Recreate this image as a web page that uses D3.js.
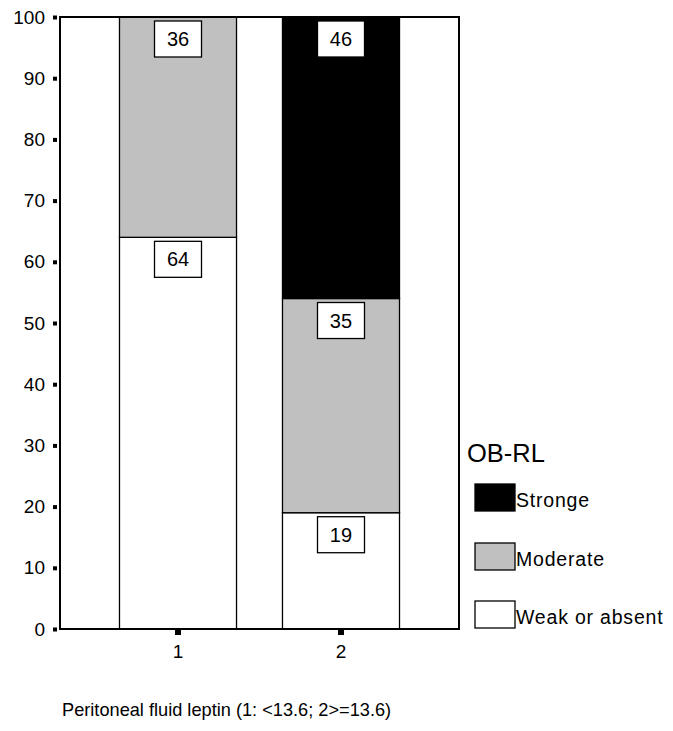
<!DOCTYPE html>
<html>
<head>
<meta charset="utf-8">
<script src="https://cdn.jsdelivr.net/npm/d3@7"></script>
<style>
  body { margin: 0; background: #fff; }
  svg { display: block; font-family: "Liberation Sans", Arial, sans-serif; }
</style>
</head>
<body>
<svg id="chart" width="673" height="731"></svg>
<script>
// Leptin groups on the x axis
const groups = ["1", "2"];
// OB-RL staining levels, bottom to top
const levels = ["Weak or absent", "Moderate", "Stronge"];
const levelColors = ["#ffffff", "#c0c0c0", "#000000"];
// Percentages per group, in the order of `levels`
const weakValues = [64, 19];
const moderateValues = [36, 35];
const strongValues = [0, 46];
const yTicks = [0, 10, 20, 30, 40, 50, 60, 70, 80, 90, 100];
const xTitle = "Peritoneal fluid leptin (1: <13.6; 2>=13.6)";
const legendTitle = "OB-RL";

const svg = d3.select("#chart");
const plot = { left: 60, right: 459, top: 17, bottom: 629 };
const font = "Liberation Sans, Arial, sans-serif";

const x = d3.scaleBand().domain(groups)
  .range([plot.left, plot.right])
  .paddingInner(0.282).paddingOuter(0.365);
const y = d3.scaleLinear().domain([0, 100]).range([plot.bottom, plot.top]);

const rows = groups.map((g, i) => ({
  group: g,
  values: [weakValues[i], moderateValues[i], strongValues[i]]
}));

// Stacked segments
const labels = [];
rows.forEach(row => {
  let base = 0;
  row.values.forEach((v, li) => {
    if (v > 0) {
      svg.append("rect")
        .attr("x", x(row.group))
        .attr("y", y(base + v))
        .attr("width", x.bandwidth())
        .attr("height", y(base) - y(base + v))
        .attr("fill", levelColors[li])
        .attr("stroke", "#000")
        .attr("stroke-width", 1.3);
      labels.push({ cx: x(row.group) + x.bandwidth() / 2, top: y(base + v) + 4, v });
    }
    base += v;
  });
});

// Frame around the plot area
svg.append("rect")
  .attr("x", plot.left).attr("y", plot.top)
  .attr("width", plot.right - plot.left).attr("height", plot.bottom - plot.top)
  .attr("fill", "none").attr("stroke", "#000").attr("stroke-width", 2);

// Value labels in white boxes near the top of each segment
labels.forEach(d => {
  const bw = 47, bh = 36;
  svg.append("rect")
    .attr("x", d.cx - bw / 2).attr("y", d.top)
    .attr("width", bw).attr("height", bh)
    .attr("fill", "#fff").attr("stroke", "#000").attr("stroke-width", 1.3);
  svg.append("text")
    .attr("x", d.cx).attr("y", d.top + bh / 2 + 7)
    .attr("text-anchor", "middle")
    .attr("font-size", 20)
    .text(d.v);
});

// Y axis
const yAxis = d3.axisLeft(y).tickValues(yTicks).tickSize(0).tickPadding(15);
const gy = svg.append("g").attr("transform", `translate(${plot.left},0)`).call(yAxis);
gy.select(".domain").remove();
gy.selectAll("text").attr("font-size", 19).attr("fill", "#000")
  .attr("font-family", font).attr("dy", "0.32em");
gy.selectAll(".tick").append("rect")
  .attr("x", -7).attr("y", -2).attr("width", 4).attr("height", 4).attr("fill", "#000");

// X axis
const xAxis = d3.axisBottom(x).tickSize(0).tickPadding(16);
const gx = svg.append("g").attr("transform", `translate(0,${plot.bottom})`).call(xAxis);
gx.select(".domain").remove();
gx.selectAll("text").attr("font-size", 19).attr("fill", "#000")
  .attr("font-family", font);
gx.selectAll(".tick").append("rect")
  .attr("x", -3).attr("y", 1).attr("width", 6).attr("height", 5).attr("fill", "#000");

// Axis title
svg.append("text")
  .attr("x", 62).attr("y", 716)
  .attr("font-size", 18.2)
  .text(xTitle);

// Legend
svg.append("text")
  .attr("x", 467).attr("y", 462)
  .attr("font-size", 25.5)
  .text(legendTitle);

const legendOrder = [2, 1, 0];
const legendY = [484, 543, 601];
legendOrder.forEach((li, k) => {
  svg.append("rect")
    .attr("x", 475).attr("y", legendY[k])
    .attr("width", 40).attr("height", 27)
    .attr("fill", levelColors[li])
    .attr("stroke", "#000").attr("stroke-width", 1.3);
  svg.append("text")
    .attr("x", 516).attr("y", legendY[k] + 23)
    .attr("font-size", 19.5)
    .attr("letter-spacing", 0.8)
    .text(levels[li]);
});
</script>
</body>
</html>
